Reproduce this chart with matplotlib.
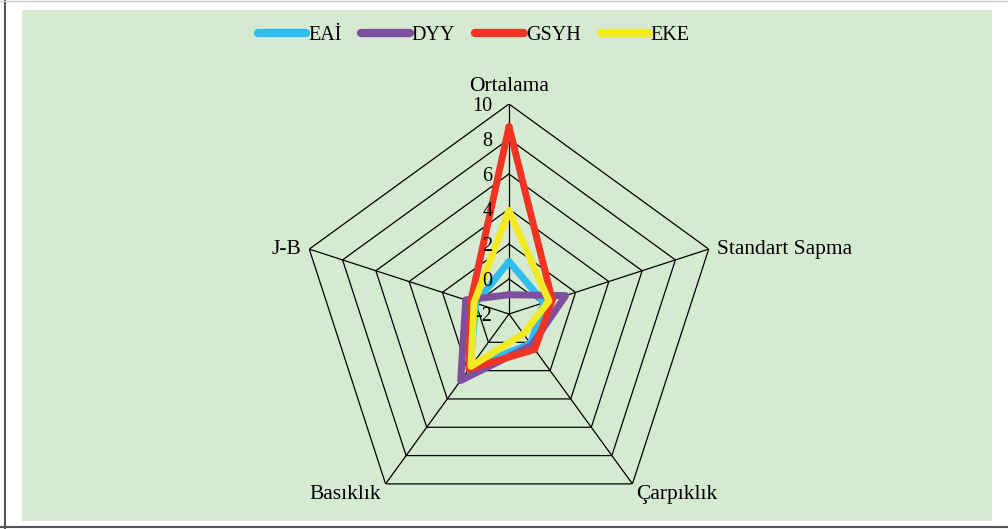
import numpy as np
import matplotlib
matplotlib.use("Agg")
import matplotlib.pyplot as plt
from matplotlib.patches import Rectangle
from matplotlib.lines import Line2D

plt.rcParams['font.family'] = ['Liberation Serif', 'DejaVu Serif']

categories = ["Ortalama", "Standart Sapma", "Çarpıklık", "Basıklık", "J-B"]
series_names = ["EAİ", "DYY", "GSYH", "EKE"]
eai = [1.0, 0.1, 0.1, 1.8, 0.0]
dyy = [-0.9, 1.4, 0.2, 2.7, 0.6]
gsyh = [8.7, 0.6, 0.5, 1.9, 0.3]
eke = [3.9, 0.4, -0.6, 1.7, 0.1]
colors = ["#2fbdf0", "#7f4f9f", "#ef3424", "#f4ea24"]
ticks = [-2, 0, 2, 4, 6, 8, 10]

W, H = 1008, 529
fig = plt.figure(figsize=(W / 100, H / 100), dpi=100)
fig.patch.set_facecolor("white")

# green panel and frame lines
fig.add_artist(Rectangle((22 / W, 1 - 521 / H), 970 / W, 511 / H,
                         transform=fig.transFigure, facecolor="#d6ead1",
                         edgecolor="none", zorder=0))
fig.add_artist(Line2D([4.5 / W, 4.5 / W], [0, 1], transform=fig.transFigure,
                      color="#555555", lw=1.5))
fig.add_artist(Line2D([0, 1], [1 - 527 / H, 1 - 527 / H], transform=fig.transFigure,
                      color="#555555", lw=1.5))
fig.add_artist(Line2D([0, 1], [1 - 0.5 / H, 1 - 0.5 / H], transform=fig.transFigure,
                      color="#cccccc", lw=1))

cx, cy, R = 509, 314, 210
ax = fig.add_axes([(cx - R) / W, (H - cy - R) / H, 2 * R / W, 2 * R / H],
                  projection="polar")
ax.patch.set_alpha(0)
ax.set_theta_offset(np.pi / 2)
ax.set_theta_direction(-1)
ax.set_ylim(-2, 10)
ax.grid(False)
ax.spines["polar"].set_visible(False)
ax.set_xticks([])
ax.set_yticks([])

n = len(categories)
theta = np.linspace(0, 2 * np.pi, n, endpoint=False)
theta_c = np.append(theta, theta[0])

# pentagon grid
for t in ticks[1:]:
    ax.plot(theta_c, [t] * (n + 1), color="black", lw=0.9, zorder=1)
for th in theta:
    ax.plot([th, th], [-2, 10], color="black", lw=0.9, zorder=1)

for name, vals, col in zip(series_names, [eai, dyy, gsyh, eke], colors):
    ax.plot(theta_c, vals + vals[:1], color=col, lw=5, label=name,
            solid_joinstyle="round", solid_capstyle="round", zorder=3)

for t in ticks:
    ax.annotate(str(t), xy=(0, t), xytext=(-12, -1.5), textcoords="offset points",
                ha="right", va="center", fontsize=14.5, zorder=4)

label_pos = [((0, 6), "center", "bottom"),
             ((6, 0), "left", "center"),
             ((3, -1), "left", "top"),
             ((-3, -1), "right", "top"),
             ((-6, 0), "right", "center")]
for th, cat, (off, ha, va) in zip(theta, categories, label_pos):
    ax.annotate(cat, xy=(th, 10), xytext=off, textcoords="offset points",
                ha=ha, va=va, fontsize=15.5, annotation_clip=False)

handles, labels = ax.get_legend_handles_labels()
leg = fig.legend(handles, labels, loc="center", bbox_to_anchor=(0.47, 1 - 35 / H),
                 ncol=4, frameon=False, fontsize=14.5, handlelength=2.4,
                 handletextpad=0.1, columnspacing=1.0)
for line in leg.get_lines():
    line.set_linewidth(6)
    line.set_solid_capstyle("round")

fig.savefig("out.png", dpi=100)
